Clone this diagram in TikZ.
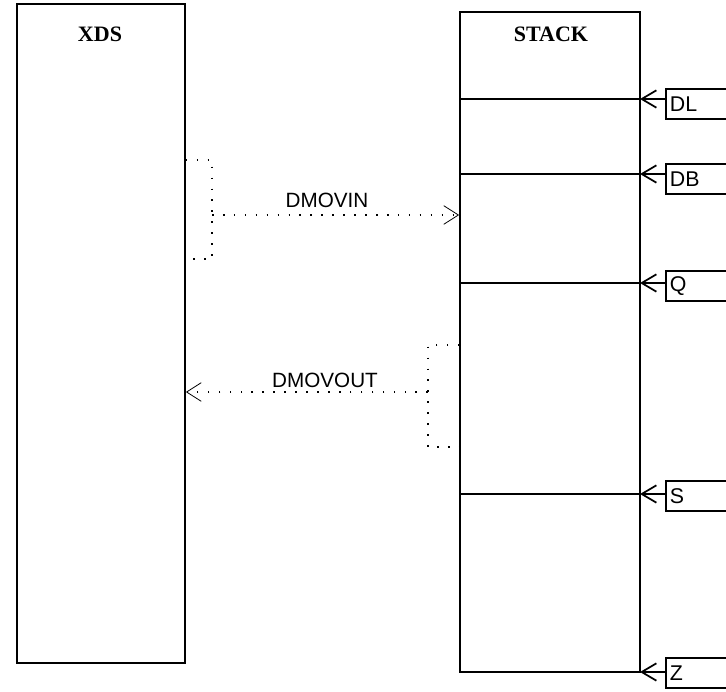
\documentclass[tikz,border=0pt]{standalone}
\usepackage{fontspec}
\setmainfont{Liberation Serif}
\setsansfont{Liberation Sans}
\usetikzlibrary{positioning,arrows.meta}

\begin{document}
\begin{tikzpicture}[
  x=0.75pt, y=-0.75pt,
  block/.style={draw, line width=1.3pt, inner sep=0pt},
  title/.style={font=\fontsize{16.5}{18}\selectfont\bfseries},
  tag/.style={draw, line width=1.3pt, anchor=west, minimum height=22pt, text width=62pt, inner xsep=3pt, align=left, font=\fontsize{16}{18}\sffamily},
  sep/.style={line width=1.6pt},
  arr/.style={line width=1.3pt, {Straight Barb[length=11pt,width=13pt]}-},
  flow/.style={line width=1.2pt, dash pattern=on 1.2pt off 7pt},
  flowarr/.style={flow, -{Straight Barb[length=11pt,width=14pt,line width=0.6pt]}},
  msg/.style={font=\fontsize{15.5}{18}\sffamily}]
  \clip (0,0) rectangle (726,692);
  % the two units
  \node[block, minimum width=126pt, minimum height=494.25pt] (xds) at (101,333.5) {};
  \node[block, minimum width=135pt, minimum height=495pt] (stack) at (550,342) {};
  \node[title] (xdst) at (100,34) {XDS};
  \node[title] (stackt) at (551,34) {STACK};
  % stack entries
  \coordinate (dlpt) at (640,99);
  \coordinate (dbpt) at (640,174);
  \coordinate (qpt) at (640,283);
  \coordinate (spt) at (640,494);
  \coordinate (zpt) at (640,672);
  \draw[sep] (stack.west |- dlpt) -- (dlpt);
  \draw[sep] (stack.west |- dbpt) -- (dbpt);
  \draw[sep] (stack.west |- qpt) -- (qpt);
  \draw[sep] (stack.west |- spt) -- (spt);
  \node[tag] (dl) at (665,104) {DL};
  \node[tag] (db) at (665,179) {DB};
  \node[tag] (q) at (665,286) {Q};
  \node[tag] (s) at (665,496) {S};
  \node[tag] (z) at (665,673) {Z};
  \draw[arr] (dlpt) -- (dl.west |- dlpt);
  \draw[arr] (dbpt) -- (db.west |- dbpt);
  \draw[arr] (qpt) -- (q.west |- qpt);
  \draw[arr] (spt) -- (s.west |- spt);
  \draw[arr] (zpt) -- (z.west |- zpt);
  % moves
  \coordinate (inT) at (212,160);
  \coordinate (inM) at (212,215);
  \coordinate (inB) at (212,259);
  \draw[flow] (xds.east |- inT) -- (inT) -- (inB) -- (xds.east |- inB);
  \draw[flowarr] (inM) -- (stack.west |- inM);
  \node[msg] (dmovin) at (327,200) {DMOVIN};
  \coordinate (outT) at (428,345);
  \coordinate (outM) at (428,392);
  \coordinate (outB) at (428,447);
  \draw[flow] (stack.west |- outT) -- (outT) -- (outB) -- (stack.west |- outB);
  \draw[flowarr] (outM) -- (xds.east |- outM);
  \node[msg] (dmovout) at (325,380) {DMOVOUT};
\end{tikzpicture}
\end{document}
